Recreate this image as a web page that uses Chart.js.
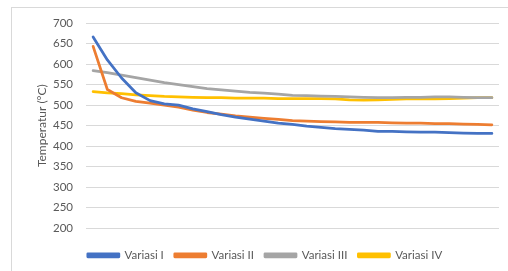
<!DOCTYPE html>
<html>
<head>
<meta charset="utf-8">
<script src="https://cdn.jsdelivr.net/npm/chart.js@4/dist/chart.umd.min.js"></script>
<style>
  html, body { margin: 0; padding: 0; background: #fff; overflow: hidden; }
  #wrap { position: relative; width: 508px; height: 271px; }
  #frame { position: absolute; left: 11px; top: 7px; width: 520px; height: 290px; border: 1px solid #d9d9d9; box-sizing: border-box; }
  canvas { position: absolute; left: 0; top: 0; }
</style>
</head>
<body>
<div id="wrap">
  <div id="frame"></div>
  <canvas id="c" width="508" height="271"></canvas>
</div>
<script>
const categories = Array.from({length: 29}, (_, i) => String(i + 1));
const variasiI   = [666, 610, 566, 530, 511, 503, 500, 491, 484, 477, 471, 466, 461, 456, 453, 449, 446, 443, 441, 439, 436, 436, 435, 434, 434, 433, 432, 431, 431];
const variasiII  = [643, 538, 518, 509, 505, 500, 495, 488, 482, 478, 474, 471, 468, 465, 462, 461, 460, 459, 458, 458, 458, 457, 456, 456, 455, 455, 454, 453, 452];
const variasiIII = [584, 579, 573, 567, 561, 555, 550, 545, 540, 537, 534, 531, 529, 527, 524, 523, 522, 521, 520, 519, 518, 518, 519, 519, 520, 520, 519, 518, 518];
const variasiIV  = [533, 530, 528, 525, 523, 521, 520, 519, 518, 518, 517, 517, 517, 516, 516, 516, 516, 515, 513, 512, 513, 514, 515, 515, 515, 516, 517, 518, 518];
const seriesNames = ['Variasi I', 'Variasi II', 'Variasi III', 'Variasi IV'];
const yTicks = [200, 250, 300, 350, 400, 450, 500, 550, 600, 650, 700];
const yTitle = 'Temperatur (°C)';

const colors = ['#4472C4', '#ED7D31', '#A5A5A5', '#FFC000'];
const FONT = 'Lato, "Liberation Sans", sans-serif';
const mk = (label, data, color) => ({
  label, data,
  borderColor: color, backgroundColor: color,
  borderWidth: 2.75, pointRadius: 0, tension: 0,
  borderCapStyle: 'round', borderJoinStyle: 'round', fill: false
});

new Chart(document.getElementById('c'), {
  type: 'line',
  data: {
    labels: categories,
    datasets: [
      mk(seriesNames[0], variasiI, colors[0]),
      mk(seriesNames[1], variasiII, colors[1]),
      mk(seriesNames[2], variasiIII, colors[2]),
      mk(seriesNames[3], variasiIV, colors[3])
    ]
  },
  options: {
    responsive: false,
    animation: false,
    events: [],
    layout: { padding: { left: 31, right: 9, top: 23, bottom: 0 } },
    plugins: {
      tooltip: { enabled: false },
      legend: {
        position: 'bottom',
        title: { display: true, text: ' ', font: { size: 1 }, padding: { top: 0, bottom: 9 } },
        labels: {
          boxWidth: 31, boxHeight: 3, padding: 11,
          color: '#595959',
          font: { family: FONT, size: 11.5 }
        }
      }
    },
    scales: {
      x: {
        offset: true,
        display: true,
        grid: { display: false, drawTicks: false },
        border: { display: false },
        ticks: { display: false }
      },
      y: {
        min: 200, max: 700,
        afterBuildTicks: (s) => { s.ticks = yTicks.map(v => ({ value: v })); },
        afterFit: (s) => { s.width = 55; },
        grid: { color: '#d9d9d9', lineWidth: 1, drawTicks: false },
        border: { display: false },
        ticks: { color: '#595959', padding: 13, font: { family: FONT, size: 11.5 } },
        title: {
          display: true, text: yTitle, color: '#595959',
          font: { family: FONT, size: 12 },
          padding: { top: 4, bottom: 0 }
        }
      }
    }
  }
});
</script>
</body>
</html>
